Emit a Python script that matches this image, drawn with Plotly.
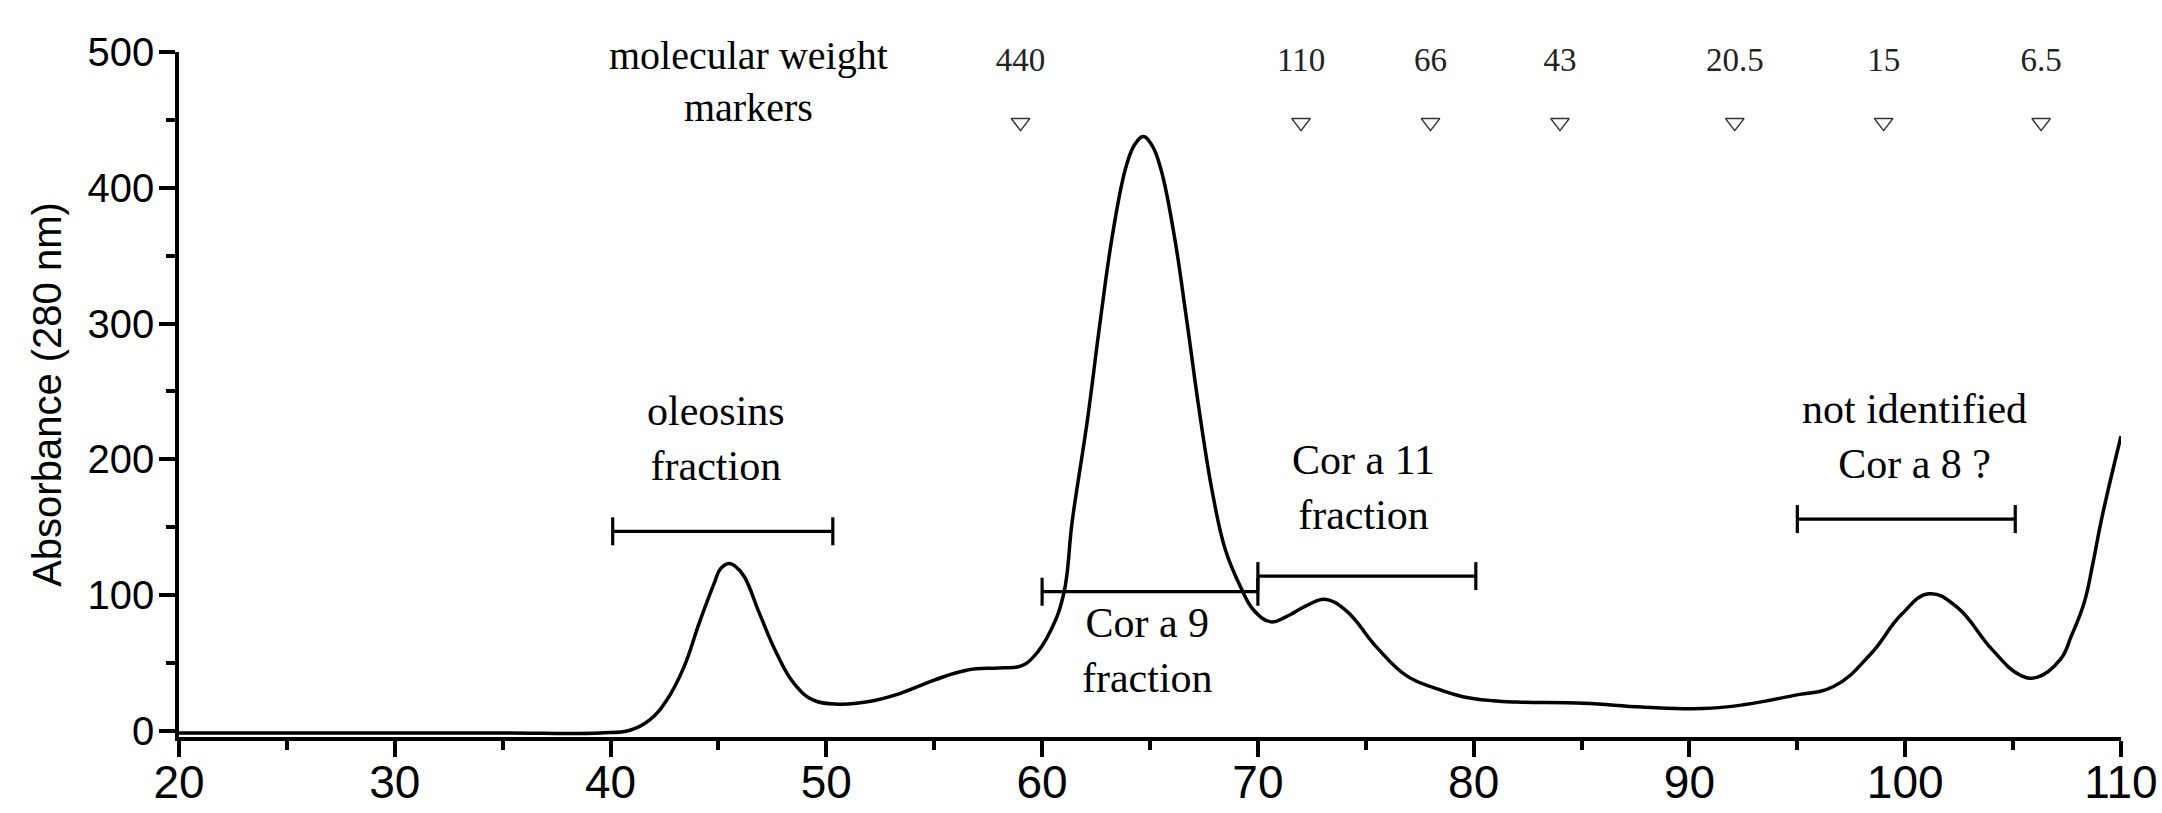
import plotly.graph_objects as go

# ---- chromatogram trace (elution volume vs absorbance at 280 nm) ----
elution = [20, 25, 30, 35, 39.5, 40.9, 41.8, 42.6, 43.4, 44.1, 44.8, 45.1, 45.5, 45.8, 46.2,
           46.9, 47.7, 48.5, 49.4, 50.6, 51.9, 53.4, 55.0, 56.5, 58.0, 59.0, 59.6, 60.4,
           61.0, 61.4, 62.1, 62.7, 63.3, 63.9, 64.3, 64.7, 65.1, 65.5, 66.1, 66.7, 67.3,
           67.9, 68.5, 69.2, 69.8, 70.6, 71.3, 72.3, 73.1, 74.1, 75.5, 76.9, 78.3, 79.5,
           80.9, 82.0, 85.1, 87.8, 90.6, 92.5, 94.8, 96.7, 98.4, 99.8, 101.1, 102.4,
           104.0, 105.3, 106.1, 107.2, 107.7, 108.3, 108.7, 109.1, 110]
absorbance = [-1.5, -1.5, -1.5, -1.5, -1.5, 0.5, 7.9, 22.6, 47, 79, 108.6, 119.5, 123.3, 121, 113.5,
              86.5, 57, 35, 22.6, 19.7, 21.4, 27.5, 37.4, 44.7, 46.4, 47.7, 54.5, 74,
              101, 155, 229, 302.7, 369, 416, 432, 437.7, 431, 414, 367, 302.7, 234,
              175, 133, 106, 89, 80.3, 84, 92.6, 97, 88.4, 61.7, 40.5, 31, 25.2,
              22.2, 21.2, 20.4, 17.6, 16.4, 19.2, 26, 32.9, 56.6, 85.3, 101, 91.1,
              60.4, 41.3, 39.4, 52.8, 70, 94.8, 123.5, 156, 217]

# ---- molecular weight markers (kDa) ----
mw_labels = ["440", "110", "66", "43", "20.5", "15", "6.5"]
mw_positions = [59.0, 72.0, 78.0, 84.0, 92.1, 99.0, 106.3]
mw_marker_level = 448
mw_label_level = 492

# ---- collected fractions ----
fraction_names = ["oleosins<br>fraction", "Cor a 9<br>fraction", "Cor a 11<br>fraction",
                  "not identified<br>Cor a 8 ?"]
fraction_start = [40.1, 60.0, 70.0, 95.0]
fraction_end = [50.3, 70.0, 80.1, 105.1]
fraction_level = [147, 102.5, 114, 156]
label_x = [44.9, 64.9, 74.9, 100.45]
label_y = [215, 59, 179, 217]

SANS = "Liberation Sans, Arial, sans-serif"
SERIF = "Liberation Serif, Times New Roman, serif"

fig = go.Figure()

fig.add_trace(go.Scatter(
    x=elution, y=absorbance, mode="lines",
    line=dict(color="black", width=3.5, shape="spline", smoothing=1.2),
    showlegend=False, hoverinfo="skip"))

for x0, x1, yv in zip(fraction_start, fraction_end, fraction_level):
    fig.add_trace(go.Scatter(
        x=[x0, x1], y=[yv, yv], mode="lines+markers",
        line=dict(color="black", width=3.2),
        marker=dict(symbol="line-ns", size=20, line=dict(color="black", width=3.2)),
        showlegend=False, hoverinfo="skip"))

fig.add_trace(go.Scatter(
    x=mw_positions, y=[mw_marker_level] * len(mw_positions), mode="markers",
    marker=dict(symbol="triangle-down-open", size=16, color="#333333",
                line=dict(color="#333333", width=1.5)),
    showlegend=False, hoverinfo="skip"))

fig.add_trace(go.Scatter(
    x=mw_positions, y=[mw_label_level] * len(mw_positions), mode="text",
    text=mw_labels, textposition="middle center", cliponaxis=False,
    textfont=dict(family=SERIF, size=33, color="#222222"),
    showlegend=False, hoverinfo="skip"))

fig.add_annotation(x=46.4, y=478, xref="x", yref="y", text="molecular weight<br>markers",
                   showarrow=False, xanchor="center", yanchor="middle",
                   font=dict(family=SERIF, size=40, color="black"))

for name, lx, ly in zip(fraction_names, label_x, label_y):
    fig.add_annotation(x=lx, y=ly, xref="x", yref="y", text=name, showarrow=False,
                       xanchor="center", yanchor="middle",
                       font=dict(family=SERIF, size=42, color="black"))

fig.update_layout(
    width=2162, height=813,
    margin=dict(l=179, r=41, t=52, b=76, autoexpand=False),
    paper_bgcolor="white", plot_bgcolor="white",
    showlegend=False,
)

fig.update_xaxes(
    range=[20, 110], tickvals=[20, 30, 40, 50, 60, 70, 80, 90, 100, 110],
    automargin=False,
    showgrid=False, zeroline=False,
    showline=True, linecolor="black", linewidth=3.5,
    ticks="outside", ticklen=16, tickwidth=3.5, tickcolor="black",
    minor=dict(ticks="outside", ticklen=9, tickwidth=3.5, tickcolor="black", dtick=5, tick0=20),
    tickfont=dict(family=SANS, size=46, color="black"),
    ticklabelstandoff=-14,
)

fig.update_yaxes(
    range=[-4.5, 500], tickvals=[0, 100, 200, 300, 400, 500],
    automargin=False,
    showgrid=False, zeroline=False,
    showline=True, linecolor="black", linewidth=3.5,
    ticks="outside", ticklen=16, tickwidth=3.5, tickcolor="black",
    minor=dict(ticks="outside", ticklen=9, tickwidth=3.5, tickcolor="black", dtick=50, tick0=0),
    tickfont=dict(family=SANS, size=40, color="black"),
    ticklabelstandoff=-3,
    title=dict(text="Absorbance (280 nm)", font=dict(family=SANS, size=40, color="black"),
               standoff=15),
)

fig.write_html(
    "out.html",
    config={"displayModeBar": False},
    post_script="document.body.style.margin='0';document.body.style.overflow='hidden';",
)
